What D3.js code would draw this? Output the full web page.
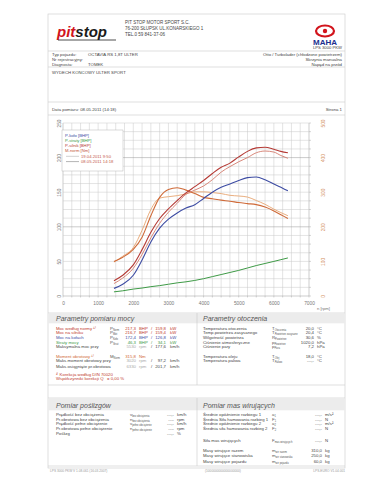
<!DOCTYPE html>
<html>
<head>
<meta charset="utf-8">
<script src="https://cdn.jsdelivr.net/npm/d3@7"></script>
<style>
  html, body { margin: 0; padding: 0; background: #fff; }
  svg { display: block; font-family: "Liberation Sans", Arial, sans-serif; }
</style>
</head>
<body>
<script>
// engine speed [rpm] shared by all curves
const rpm = [1450, 1700, 2000, 2250, 2500, 2750, 3000, 3250, 3500, 3750, 4000,
  4250, 4500, 4750, 5000, 5250, 5500, 5750, 6000, 6200, 6400];
// wheel power [BHP]
const pKolo = [11, 17, 30, 52, 78, 98, 111, 120, 127, 132, 141,
  150, 157, 162, 167, 171, 172, 168, 162, 157, 152];
// losses [BHP]
const pStraty = [6, 7.5, 10, 11.5, 13.5, 15, 17, 19, 20.5, 22.5, 25,
  28, 31, 34, 37, 40.5, 44, 47, 50, 52.5, 55];
// engine power [BHP], run 19.04 / run 08.05
const pSilnik1904 = [18, 26, 40, 60, 84, 105, 121, 134, 147, 153, 159,
  168, 179, 187, 194, 200, 207, 209.5, 208, 203, 199];
const pSilnik0805 = [22, 30, 45, 67, 92, 112, 126, 138, 149, 158, 167,
  177, 186, 192, 201, 209, 214, 215, 212, 209, 207];
// normalised torque [Nm], run 19.04 / run 08.05
const mNorm1904 = [98, 115, 140, 190, 250, 283, 287, 290, 295, 301, 301,
  299, 296, 291, 289, 286, 276, 265, 251, 241, 232];
const mNorm0805 = [100, 112, 135, 170, 232, 285, 308, 313, 306, 296, 285,
  281, 277, 274, 270, 267, 264, 257, 246, 235, 224];

const rpmTicks = [0, 1000, 2000, 3000, 4000, 5000, 6000, 7000];
const bhpTicks = [0, 50, 100, 150, 200, 250];
const nmTicks = [0, 100, 200, 300, 400, 500];

const legendItems = ['P-koło [BHP]', 'P-straty [BHP]', 'P-silnik [BHP]', 'M-norm [Nm]'];
const runLabels = ['19.04.2011 9:50', '08.05.2011 14:18'];

const C_BLUE = '#3d4ca3', C_GREEN = '#3e9a46', C_RED = '#b53a35', C_RED2 = '#d47a6c',
  C_ORANGE = '#cf6a38', C_ORANGE2 = '#e6a570', C_TEXT = '#444', C_BORDER = '#c9c9c9';

const svg = d3.select('body').append('svg').attr('width', 370).attr('height', 480);

function txt(x, y, s, o = {}) {
  return svg.append('text')
    .attr('x', x).attr('y', y)
    .attr('font-size', o.size || 4.3)
    .attr('fill', o.fill || C_TEXT)
    .attr('text-anchor', o.anchor || 'start')
    .attr('font-style', o.italic ? 'italic' : null)
    .attr('font-weight', o.bold ? 'bold' : null)
    .text(s);
}
function hline(y, x0 = 48, x1 = 345, c = C_BORDER) {
  svg.append('line').attr('x1', x0).attr('x2', x1).attr('y1', y).attr('y2', y)
    .attr('stroke', c).attr('stroke-width', 0.6);
}
function vline(x, y0, y1, c = C_BORDER) {
  svg.append('line').attr('x1', x).attr('x2', x).attr('y1', y0).attr('y2', y1)
    .attr('stroke', c).attr('stroke-width', 0.6);
}
// symbol with subscript, e.g. P_Norm
function sym(x, y, main, sub, fill = '#555') {
  const t = svg.append('text').attr('x', x).attr('y', y).attr('font-size', 4.3).attr('fill', fill);
  t.append('tspan').text(main);
  t.append('tspan').attr('font-size', 2.6).attr('dy', 1).text(sub);
}

// ---------- frame ----------
svg.append('rect').attr('x', 48).attr('y', 14).attr('width', 297).attr('height', 454)
  .attr('fill', 'none').attr('stroke', C_BORDER).attr('stroke-width', 0.6);
hline(51); hline(67); hline(102); hline(115); hline(313);
hline(385); hline(398); hline(466);

// ---------- header ----------
const logo = svg.append('text').attr('x', 57).attr('y', 37).attr('font-size', 15)
  .attr('font-weight', 'bold').attr('font-style', 'italic');
logo.append('tspan').attr('fill', '#d2141c').text('pit');
logo.append('tspan').attr('fill', '#1a1a1a').text('stop');
svg.append('line').attr('x1', 58).attr('x2', 116).attr('y1', 40).attr('y2', 40)
  .attr('stroke', '#222').attr('stroke-width', 0.8);

txt(125, 24, 'PIT STOP MOTOR SPORT S.C.', { size: 4.5 });
txt(125, 30, '76-200 SŁUPSK UL.KONARSKIEGO 1', { size: 4.5 });
txt(125, 36, 'TEL.0 59 841-37-06', { size: 4.5 });

// MAHA logo
svg.append('ellipse').attr('cx', 325).attr('cy', 31).attr('rx', 9).attr('ry', 5.5)
  .attr('fill', 'none').attr('stroke', '#d2141c').attr('stroke-width', 2.2);
svg.append('circle').attr('cx', 325).attr('cy', 31).attr('r', 2.2).attr('fill', '#d2141c');
txt(325, 44.5, 'MAHA', { size: 8, bold: true, fill: '#1c2f8f', anchor: 'middle' });
txt(342, 49.3, 'LPS 3000 PKW', { size: 4.2, anchor: 'end' });

txt(52, 55.5, 'Typ pojazdu:'); txt(88, 55.5, 'OCTAVIA RS 1,8T ULTER');
txt(52, 60.5, 'Nr rejestracyjny:');
txt(52, 65.5, 'Diagnosta:'); txt(88, 65.5, 'TOMEK');
txt(342, 55.5, 'Otto / Turbolader (chłodzone powietrzem)', { anchor: 'end' });
txt(342, 60.5, 'Skrzynia manualna', { anchor: 'end' });
txt(342, 65.5, 'Napęd na przód', { anchor: 'end' });
txt(52, 73.5, 'WYDECH KOŃCOWY ULTER SPORT');

txt(52, 110.5, 'Data pomiaru: 08.05.2011 (14:18)');
txt(342, 110.5, 'Strona 1', { anchor: 'end' });

// ---------- chart ----------
const x = d3.scaleLinear().domain([0, 7000]).range([63, 309]);
const yP = d3.scaleLinear().domain([0, 250]).range([296, 123]);
const yM = d3.scaleLinear().domain([0, 500]).range([296, 123]);

const grid = svg.append('g');
grid.selectAll('line.v').data(d3.range(0, 7001, 250)).join('line')
  .attr('x1', d => x(d)).attr('x2', d => x(d)).attr('y1', yP(0)).attr('y2', yP(250))
  .attr('stroke', d => (d === 0 || d === 7000) ? '#999' : '#c8c8c8').attr('stroke-width', 0.5);
grid.selectAll('line.h').data(d3.range(0, 250.1, 12.5)).join('line')
  .attr('x1', x(0)).attr('x2', x(7000)).attr('y1', d => yP(d)).attr('y2', d => yP(d))
  .attr('stroke', d => (d % 100 === 0) ? '#999' : '#c8c8c8').attr('stroke-width', 0.5);

// ruler ticks on both sides
svg.append('g').selectAll('line').data(d3.range(0, 250.1, 12.5)).join('line')
  .attr('x1', x(7000)).attr('x2', x(7000) + 2).attr('y1', d => yP(d)).attr('y2', d => yP(d))
  .attr('stroke', '#999').attr('stroke-width', 0.4);
svg.append('g').selectAll('line').data(d3.range(0, 7001, 250)).join('line')
  .attr('x1', d => x(d)).attr('x2', d => x(d)).attr('y1', yP(0)).attr('y2', yP(0) + 1.5)
  .attr('stroke', '#999').attr('stroke-width', 0.4);

const gx = svg.append('g').attr('transform', `translate(0,${yP(0)})`)
  .call(d3.axisBottom(x).tickValues(rpmTicks).tickFormat(d3.format('d')).tickSize(0).tickPadding(6));
gx.select('.domain').remove();
gx.selectAll('text').attr('font-size', 4.8).attr('fill', '#777').attr('font-family', null);
txt(330, 309.5, 'n [rpm]', { size: 4.2, anchor: 'end', fill: '#777' });

const gl = svg.append('g').attr('transform', `translate(${x(0)},0)`)
  .call(d3.axisLeft(yP).tickValues(bhpTicks).tickSize(0));
gl.select('.domain').remove();
gl.selectAll('text').attr('transform', 'rotate(-90)').attr('x', 0).attr('y', -2.5)
  .attr('dy', null).attr('text-anchor', 'middle')
  .attr('font-size', 4.8).attr('fill', '#777').attr('font-family', null);

const gr = svg.append('g').attr('transform', `translate(${x(7000)},0)`)
  .call(d3.axisRight(yM).tickValues(nmTicks).tickSize(0));
gr.select('.domain').remove();
gr.selectAll('text').attr('transform', 'rotate(-90)').attr('x', 0).attr('y', 16)
  .attr('dy', null).attr('text-anchor', 'middle')
  .attr('font-size', 4.8).attr('fill', '#d49266').attr('font-family', null);

const lineP = d3.line().x((d, i) => x(rpm[i])).y(d => yP(d)).curve(d3.curveMonotoneX);
const lineM = d3.line().x((d, i) => x(rpm[i])).y(d => yM(d)).curve(d3.curveMonotoneX);
const series = [
  { v: pStraty, l: lineP, c: C_GREEN, w: 1 },
  { v: mNorm1904, l: lineM, c: C_ORANGE2, w: 0.9 },
  { v: mNorm0805, l: lineM, c: C_ORANGE, w: 1.1 },
  { v: pSilnik1904, l: lineP, c: C_RED2, w: 0.9 },
  { v: pSilnik0805, l: lineP, c: C_RED, w: 1.1 },
  { v: pKolo, l: lineP, c: C_BLUE, w: 1.1 },
];
svg.append('g').selectAll('path').data(series).join('path')
  .attr('d', d => d.l(d.v)).attr('fill', 'none')
  .attr('stroke', d => d.c).attr('stroke-width', d => d.w);

// legend
svg.append('rect').attr('x', 62).attr('y', 130).attr('width', 61).attr('height', 41)
  .attr('fill', '#fff').attr('stroke', '#b8b8b8').attr('stroke-width', 0.5);
const legColors = [C_BLUE, C_GREEN, C_RED, '#c2563c'];
legendItems.forEach((s, i) => txt(65, 136.5 + i * 5.3, s, { size: 4.2, fill: legColors[i] }));
runLabels.forEach((s, i) => {
  const yy = 157.7 + i * 5.3;
  svg.append('line').attr('x1', 66).attr('x2', 79).attr('y1', yy - 1.4).attr('y2', yy - 1.4)
    .attr('stroke', '#a0a0a0').attr('stroke-width', i ? 0.8 : 0.5);
  txt(81, yy, s, { size: 4.2, fill: '#c45a4c' });
});

// ---------- section bands ----------
[[313, 323], [398, 410]].forEach(([a, b]) => {
  svg.append('rect').attr('x', 48.3).attr('y', a + 0.3).attr('width', 296.4).attr('height', b - a)
    .attr('fill', '#ececec');
});
vline(197, 313, 385); vline(197, 398, 466);
txt(56, 321, 'Parametry pomiaru mocy', { size: 7, italic: true, fill: '#555' });
txt(203, 321, 'Parametry otoczenia', { size: 7, italic: true, fill: '#555' });
txt(56, 407.5, 'Pomiar poślizgów', { size: 7, italic: true, fill: '#555' });
txt(203, 407.5, 'Pomiar mas wirujących', { size: 7, italic: true, fill: '#555' });

// power parameters
const powRows = [
  ['Moc według normy ¹⁾', 'P', 'Norm', '217,3', '159,8', '#c0392b'],
  ['Moc na silniku', 'P', 'Mot', '216,7', '159,4', '#c0392b'],
  ['Moc na kołach', 'P', 'Koło', '172,4', '126,8', C_BLUE],
  ['Straty mocy', 'P', 'Strat', '46,3', '34,1', C_GREEN],
];
powRows.forEach((r, i) => {
  const yy = 329.5 + i * 4.7;
  txt(56, yy, r[0], { fill: r[5] });
  sym(110, yy, r[1], r[2], '#555');
  txt(136, yy, r[3], { anchor: 'end', fill: r[5] });
  txt(139, yy, 'BHP', { fill: r[5] });
  txt(151, yy, '/', { fill: r[5] });
  txt(166, yy, r[4], { anchor: 'end', fill: r[5] });
  txt(170, yy, 'kW', { fill: r[5] });
});
function rpmRow(yy, label, n, v) {
  txt(56, yy, label);
  txt(136, yy, n, { anchor: 'end', fill: '#aaa' });
  txt(139, yy, 'rpm', { fill: '#aaa' });
  txt(151, yy, '/');
  txt(166, yy, v, { anchor: 'end' });
  txt(170, yy, 'km/h');
}
rpmRow(348.3, 'Maksymalna moc przy', '5530', '177,6');
txt(56, 357.5, 'Moment obrotowy ¹⁾', { fill: C_ORANGE });
sym(110, 357.5, 'M', 'Norm');
txt(136, 357.5, '315,8', { anchor: 'end', fill: C_ORANGE });
txt(139, 357.5, 'Nm', { fill: C_ORANGE });
rpmRow(362.2, 'Maks.moment obrotowy przy', '3020', '97,2');
rpmRow(368, 'Maks.osiągnięte pr.obrotowa', '6330', '201,7');
txt(56, 375.5, '¹⁾ Korekcja według DIN 70020', { fill: '#c0392b' });
txt(56, 380.2, 'Współczynniki korekcji Q', { fill: '#c0392b' });
txt(107, 380.2, '=   0,00 %', { fill: '#c0392b' });

// ambient
const ambRows = [
  ['Temperatura otoczenia', 'T', 'Otoczenia', '20,0', '°C'],
  ['Temp.powietrza zasysanego', 'T', 'Powietrze zasysane', '20,4', '°C'],
  ['Wilgotność powietrza', 'R', 'Powietrze', '30,6', '%'],
  ['Ciśnienie atmosferyczne', 'p', 'Powietrze', '1020,0', 'hPa'],
  ['Ciśnienie pary', 'p', 'Para', '7,2', 'hPa'],
];
ambRows.forEach((r, i) => {
  const yy = 329.5 + i * 4.7;
  txt(203, yy, r[0]); sym(272, yy, r[1], r[2]);
  txt(314, yy, r[3], { anchor: 'end' }); txt(317, yy, r[4]);
});
[['Temperatura oleju', 'T', 'Olej', '18,0', '°C'], ['Temperatura paliwa', 'T', 'Paliwo', '---,-', '°C']]
  .forEach((r, i) => {
    const yy = 357.5 + i * 4.7;
    txt(203, yy, r[0]); sym(272, yy, r[1], r[2]);
    txt(314, yy, r[3], { anchor: 'end' }); txt(317, yy, r[4]);
  });

// slip
const slipRows = [
  ['Prędkość bez obciążenia', 'v', 'bez obciążenia', '---,-', 'km/h'],
  ['Pr.obrotowa bez obciążenia', 'n', 'bez obciążenia', '----', 'rpm'],
  ['Prędkość pełne obciążenie', 'v', 'pełne obciążenie', '---,-', 'km/h'],
  ['Pr.obrotowa pełne obciążenie', 'n', 'pełne obciążenie', '----', 'rpm'],
];
slipRows.forEach((r, i) => {
  const yy = 416 + i * 4.7;
  txt(56, yy, r[0]); sym(130, yy, r[1], r[2]);
  txt(174, yy, r[3], { anchor: 'end' }); txt(177, yy, r[4]);
});
txt(56, 435, 'Poślizg'); txt(174, 435, '---,-', { anchor: 'end' }); txt(177, 435, '%');

// rotating masses
const massRows = [
  ['Średnie opóźnienie rozbiegu 1', 'a', '1', '---,-', 'm/s²'],
  ['Średnia Siła hamowania rozbieg 1', 'F', '1', '---,-', 'N'],
  ['Średnie opóźnienie rozbiegu 2', 'a', '2', '---,-', 'm/s²'],
  ['Średnia siła hamowania rozbieg 2', 'F', '2', '---,-', 'N'],
];
massRows.forEach((r, i) => {
  const yy = 416 + i * 4.7;
  txt(203, yy, r[0]); sym(272, yy, r[1], r[2]);
  txt(322, yy, r[3], { anchor: 'end' }); txt(325, yy, r[4]);
});
txt(203, 442, 'Siła mas wirujących'); sym(272, 442, 'F', 'mas wirujących');
txt(322, 442, '---,-', { anchor: 'end' }); txt(325, 442, 'N');
[['Masy wirujące razem', 'm', 'wir razem', '310,0'],
 ['Masy wirujące stanowiska', 'm', 'wir stanowiska', '250,0'],
 ['Masy wirujące pojazdu', 'm', 'wir pojazdu', '60,0']].forEach((r, i) => {
  const yy = 451.5 + i * 5.5;
  txt(203, yy, r[0]); sym(272, yy, r[1], r[2]);
  txt(322, yy, r[3], { anchor: 'end' }); txt(325, yy, 'kg');
});

// footer
txt(50, 471.5, 'LPS 3000 PKW V 1.08.061 (16.03.2007)', { size: 3.2, fill: '#999' });
txt(205, 471.5, '(1000000000000000000)', { size: 3.2, fill: '#999' });
txt(345, 471.5, 'LPS-EURO V1.04.001', { size: 3.2, fill: '#999', anchor: 'end' });
</script>
</body>
</html>
